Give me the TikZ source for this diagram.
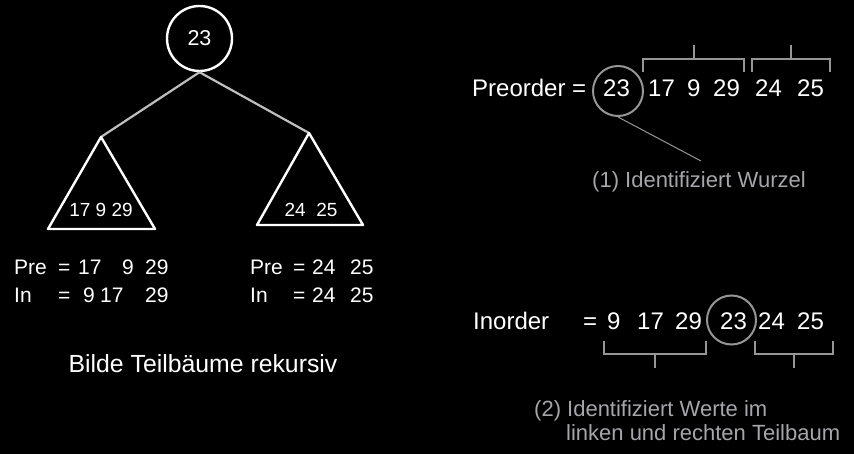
\documentclass[tikz,border=0pt]{standalone}
\usepackage{fontspec}
\setmainfont{Liberation Sans}
\usepackage{tikz}

\definecolor{edgegray}{RGB}{190,190,190}
\definecolor{markgray}{RGB}{150,150,150}
\definecolor{notegray}{RGB}{165,165,170}

\tikzset{
  txt/.style={anchor=base west, inner sep=0pt, text=white, font=\fontsize{21}{25}\selectfont},
  big/.style={txt, font=\fontsize{24}{28}\selectfont},
  note/.style={anchor=base west, inner sep=0pt, text=notegray, font=\fontsize{22}{26}\selectfont},
  brk/.style={draw=markgray, line width=1.3pt},
  edge/.style={draw=edgegray, line width=2.2pt}
}

\begin{document}
\begin{tikzpicture}[x=1pt,y=-1pt]
\fill[black] (0,0) rectangle (854,454);
\useasboundingbox (0,0) rectangle (854,454);

% tree
\node[circle, draw=white, line width=2.4pt, minimum size=65pt, inner sep=0pt, text=white, font=\fontsize{21.5}{24}\selectfont] (root) at (199.5,38.5) {23};
\coordinate (lapex) at (101,137);
\coordinate (rapex) at (309,133);
\draw[edge] (root.south) -- (lapex);
\draw[edge] (root.south) -- (rapex);
\draw[white, line width=2.4pt, line join=round] (lapex) -- (155,229) -- (48,229) -- cycle;
\draw[white, line width=2.4pt, line join=round] (rapex) -- (363,225) -- (257,225) -- cycle;
\node[anchor=base, inner sep=0pt, text=white, font=\fontsize{19}{22}\selectfont] (lsub) at (101,217) {17 9 29};
\node[anchor=base, inner sep=0pt, text=white, font=\fontsize{19}{22}\selectfont] (rsub) at (311,217) {24\ \ 25};

% left and right subtree sequences
\foreach \x/\t/\n in {14/Pre/a, 58/=/b, 78/17/c, 122/9/d, 145/29/e} {
  \node[txt] (lpre\n) at (\x,275) {\t};
}
\foreach \x/\t/\n in {14/In/a, 58/=/b, 83/9/c, 100/17/d, 145/29/e} {
  \node[txt] (lin\n) at (\x,303) {\t};
}
\foreach \x/\t/\n in {250/Pre/a, 293/=/b, 312/24/c, 350/25/d} {
  \node[txt] (rpre\n) at (\x,275) {\t};
}
\foreach \x/\t/\n in {250/In/a, 293/=/b, 312/24/c, 350/25/d} {
  \node[txt] (rin\n) at (\x,303) {\t};
}
\node[big, anchor=base, font=\fontsize{24.8}{28}\selectfont] (caption) at (203,372) {Bilde Teilb\"aume rekursiv};

% preorder
\node[big] (prelbl) at (472,97) {Preorder =};
\node[big] (pre23) at (603,97) {23};
\foreach \x/\t/\n in {648/17/a, 687/9/b, 713/29/c, 755/24/d, 797/25/e} {
  \node[big] (pre\n) at (\x,97) {\t};
}
\node[circle, draw=markgray, line width=2pt, minimum size=50pt, inner sep=0pt] (rootpre) at (618,91) {};
\foreach \a/\b/\m in {643/744/694, 752/830/791} {
  \draw[brk] (\a,72) -- (\a,59) -- (\b,59) -- (\b,72);
  \draw[brk] (\m,59) -- (\m,45);
}
\coordinate (lblend) at (701,161);
\draw[markgray, line width=1pt] (rootpre.south) -- (lblend);
\node[note] (lbl1) at (592,188) {(1) Identifiziert Wurzel};

% inorder
\node[big] (inlbl) at (473,330) {Inorder};
\node[big] (ineq) at (583,330) {=};
\foreach \x/\t/\n in {607/9/a, 637/17/b, 675/29/c, 720/23/d, 758/24/e, 797/25/f} {
  \node[big] (in\n) at (\x,330) {\t};
}
\node[circle, draw=markgray, line width=2pt, minimum size=49pt, inner sep=0pt] (rootin) at (731.5,320) {};
\foreach \a/\b/\m in {604/706/655, 755/833/794} {
  \draw[brk] (\a,341) -- (\a,354) -- (\b,354) -- (\b,341);
  \draw[brk] (\m,354) -- (\m,368);
}
\node[note] (lbl2) at (534,416) {(2) Identifiziert Werte im};
\node[note] (lbl3) at (566,440) {linken und rechten Teilbaum};
\end{tikzpicture}
\end{document}
